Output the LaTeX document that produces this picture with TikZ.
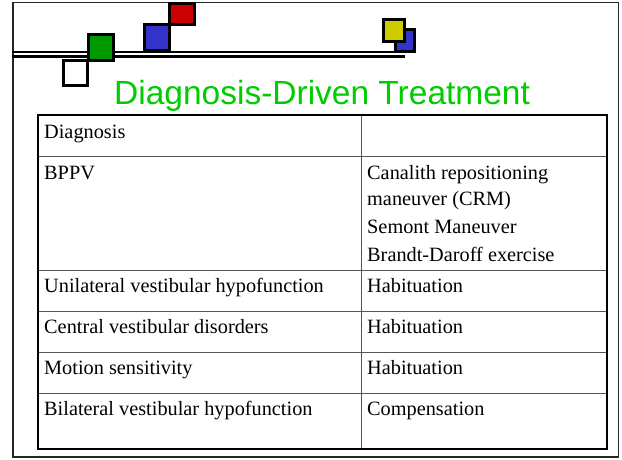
\documentclass[tikz,border=0pt]{standalone}
\usepackage{fontspec}
\setmainfont{Liberation Serif}
\newfontfamily\titlefont{Liberation Sans}
\definecolor{sqgreen}{RGB}{0,153,0}
\definecolor{sqblue}{RGB}{51,51,204}
\definecolor{sqred}{RGB}{204,0,0}
\definecolor{sqyellow}{RGB}{204,204,0}
\definecolor{titlegreen}{RGB}{0,204,0}
\definecolor{gridgray}{RGB}{85,85,85}
\begin{document}
\begin{tikzpicture}[x=1pt,y=-1pt,
  deco/.style={draw=black,line width=3pt},
  cell/.style={anchor=base west,inner sep=0pt,font=\fontsize{20.3}{24}\selectfont},
  outerrule/.style={draw=black,line width=2pt},
  innerrule/.style={draw=gridgray,line width=1pt}]
\useasboundingbox (0,0) rectangle (622,459);
\fill[white] (0,0) rectangle (622,459);

% slide frame
\draw[draw=black!85,line width=1.5pt] (13,2.5) rectangle (618.5,457);

% double rule under the header
\coordinate (ruleA) at (12,52);
\coordinate (ruleB) at (394,52);
\coordinate (ruleC) at (12,56.5);
\coordinate (ruleD) at (405,56.5);
\draw[black,line width=1.5pt] (ruleA) -- (ruleB);
\draw[black,line width=3pt] (ruleC) -- (ruleD);

% decorative squares
\draw[deco,fill=white] (63.5,60.5) rectangle (87.5,85.5);
\draw[deco,fill=sqgreen] (88.5,34.5) rectangle (113.5,60.5);
\draw[deco,fill=sqblue] (144.5,24.5) rectangle (169.5,50.5);
\draw[deco,fill=sqred] (169.5,3.5) rectangle (194.5,24.5);
\draw[deco,fill=sqblue] (395.5,29.5) rectangle (414.5,51.5);
\draw[deco,fill=sqyellow] (383.5,19.5) rectangle (404.5,41.5);

% title
\node[anchor=base west,inner sep=0pt,text=titlegreen,
      font=\titlefont\fontsize{33.5}{37}\selectfont] (title) at (114,104)
  {Diagnosis-Driven Treatment};

% table grid
\draw[innerrule] (37.5,156.7) -- (606.5,156.7);
\draw[innerrule] (37.5,270) -- (606.5,270);
\draw[innerrule] (37.5,311) -- (606.5,311);
\draw[innerrule] (37.5,352) -- (606.5,352);
\draw[innerrule] (37.5,393) -- (606.5,393);
\draw[innerrule] (361,115) -- (361,449);
\draw[outerrule] (37.5,115) rectangle (606.5,449);

% table contents
\node[cell] (h1) at (44,138.3) {Diagnosis};
\node[cell] (d1) at (44,179) {BPPV};
\node[cell] (t1a) at (367,179) {Canalith repositioning};
\node[cell] (t1b) at (367,205.5) {maneuver (CRM)};
\node[cell] (t1c) at (367,233) {Semont Maneuver};
\node[cell] (t1d) at (367,261) {Brandt-Daroff exercise};
\node[cell] (d2) at (44,292.5) {Unilateral vestibular hypofunction};
\node[cell] (t2) at (367,292.5) {Habituation};
\node[cell] (d3) at (44,333.5) {Central vestibular disorders};
\node[cell] (t3) at (367,333.5) {Habituation};
\node[cell] (d4) at (44,374.5) {Motion sensitivity};
\node[cell] (t4) at (367,374.5) {Habituation};
\node[cell] (d5) at (44,415.5) {Bilateral vestibular hypofunction};
\node[cell] (t5) at (367,415.5) {Compensation};
\end{tikzpicture}
\end{document}
